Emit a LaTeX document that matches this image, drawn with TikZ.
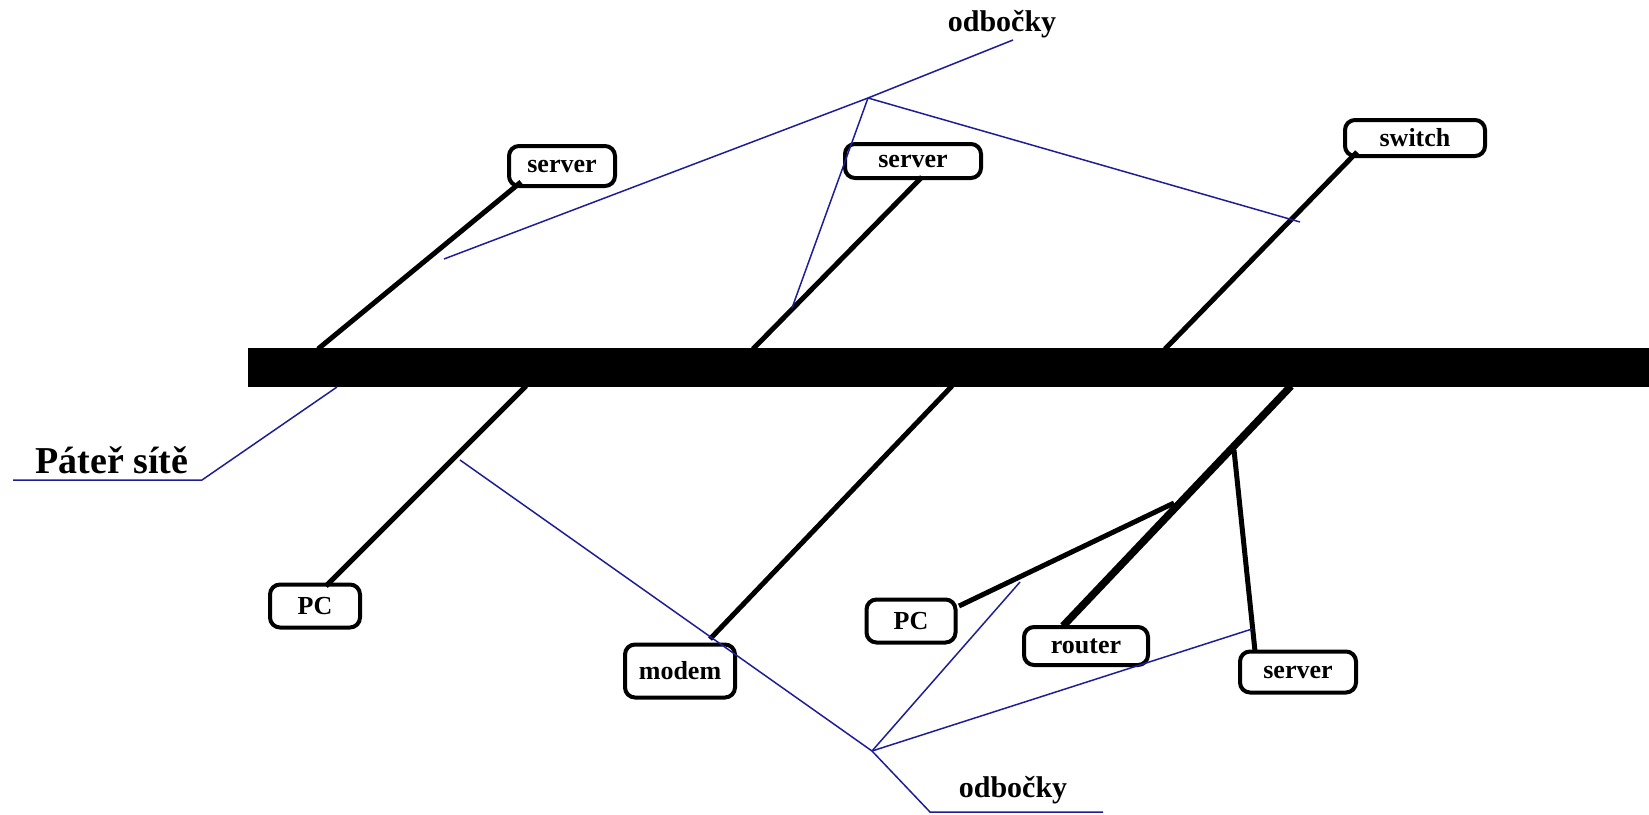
\documentclass[tikz,border=0pt]{standalone}
\usepackage{fontspec}
\setmainfont{Liberation Serif}
\definecolor{branch}{RGB}{30,30,150}
\begin{document}
\begin{tikzpicture}[x=1pt,y=-1pt,
  dev/.style={draw=black,line width=4pt,rounded corners=10pt,fill=white,inner sep=0pt,
    font=\bfseries\fontsize{26}{30}\selectfont},
  link/.style={draw=black,line width=5pt},
  thick link/.style={draw=black,line width=7.5pt},
  blue line/.style={draw=branch,line width=1.5pt},
  lbl/.style={font=\bfseries\fontsize{30}{34}\selectfont,inner sep=0pt}]
\useasboundingbox (0,0) rectangle (1649,814);
% backbone
\node[fill=black,minimum width=1401pt,minimum height=39pt,inner sep=0pt,anchor=north west] (bar) at (248,348) {};
% devices
\node[dev,minimum width=106pt,minimum height=40pt] (srv1) at (562,166) {server};
\node[dev,minimum width=136pt,minimum height=34pt] (srv2) at (913,161) {server};
\node[dev,minimum width=140pt,minimum height=36pt] (sw) at (1415,138) {switch};
\node[dev,minimum width=90pt,minimum height=43pt] (pc1) at (315,606) {PC};
\node[dev,minimum width=110pt,minimum height=53pt] (modem) at (680,671) {modem};
\node[dev,minimum width=89pt,minimum height=43pt] (pc2) at (911,621) {PC};
\node[dev,minimum width=124pt,minimum height=38pt] (router) at (1086,646) {router};
\node[dev,minimum width=116pt,minimum height=41pt] (srv3) at (1298,672) {server};
% labels
\node[lbl] (odtop) at (1002,24) {odbočky};
\node[lbl] (odbot) at (1013,790) {odbočky};
\node[font=\bfseries\fontsize{38}{44}\selectfont,inner sep=0pt] (pater) at (112,460) {Páteř sítě};
% attachment points
\coordinate (b1) at (318,349);
\coordinate (b2) at (753,349);
\coordinate (b3) at (1165,349);
\coordinate (b4) at (526,386);
\coordinate (b5) at (952,386);
\coordinate (b6) at (1291,386);
\coordinate (e1) at (521,182);
\coordinate (e2) at (922,177);
\coordinate (e3) at (1357,152);
\coordinate (e4) at (326,586);
\coordinate (e5) at (710,639);
\coordinate (e6) at (1063,626);
\coordinate (e7) at (959,606);
\coordinate (e8) at (1255,651);
\coordinate (j1) at (1174,503);
\coordinate (j2) at (1234,450);
% connectors
\draw[link] (b1) -- (e1);
\draw[link] (b2) -- (e2);
\draw[link] (b3) -- (e3);
\draw[link] (b4) -- (e4);
\draw[link] (b5) -- (e5);
\draw[thick link] (b6) -- (e6);
\draw[link] (e7) -- (j1);
\draw[link] (j2) -- (e8);
% branch indicators (top)
\coordinate (ta) at (868,98);
\coordinate (t1) at (1013,40);
\coordinate (t2) at (444,259);
\coordinate (t3) at (792,308);
\coordinate (t4) at (1300,222);
\draw[blue line] (t2) -- (ta) -- (t1);
\draw[blue line] (ta) -- (t3);
\draw[blue line] (ta) -- (t4);
% branch indicators (bottom)
\coordinate (ba) at (872,751);
\coordinate (u1) at (460,460);
\coordinate (u2) at (1020,582);
\coordinate (u3) at (1252,629);
\coordinate (u4) at (930,812);
\coordinate (u5) at (1103,812);
\draw[blue line] (u1) -- (ba) -- (u4) -- (u5);
\draw[blue line] (ba) -- (u2);
\draw[blue line] (ba) -- (u3);
% backbone label
\coordinate (p1) at (337,387);
\coordinate (p2) at (202,480);
\coordinate (p3) at (13,480);
\draw[blue line] (p1) -- (p2) -- (p3);
\end{tikzpicture}
\end{document}
